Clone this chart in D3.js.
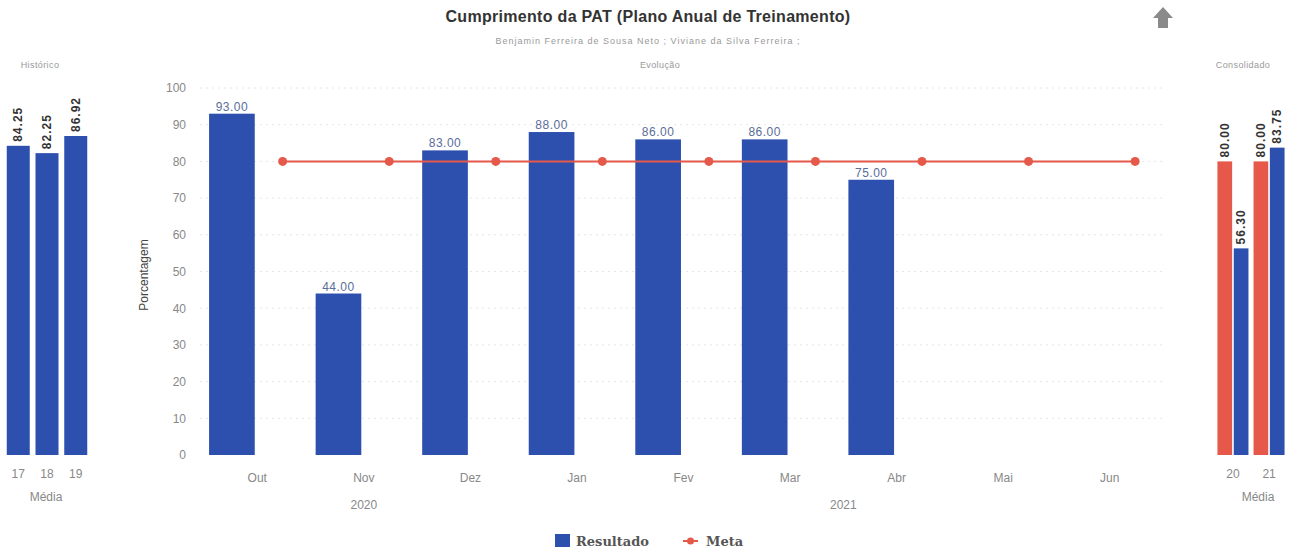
<!DOCTYPE html>
<html lang="pt">
<head>
  <meta charset="UTF-8">
  <title>Cumprimento da PAT</title>
  <style>
    body { margin: 0; background: #fff; font-family: "Liberation Sans", Arial, sans-serif; }
    svg { display: block; }
    .tick-lbl { font-size: 12px; fill: #888; }
    .small { font-size: 9px; fill: #999; letter-spacing: 0.4px; }
  </style>
</head>
<body>
  <svg width="1297" height="553"></svg>

  <script src="https://d3js.org/d3.v7.min.js"></script>
  <script>
    // main chart (Evolução)
    const months = ["Out", "Nov", "Dez", "Jan", "Fev", "Mar", "Abr", "Mai", "Jun"];
    const monthYears = ["2020", "2020", "2020", "2021", "2021", "2021", "2021", "2021", "2021"];
    const resultado = [93, 44, 83, 88, 86, 86, 75, null, null];
    const meta = [80, 80, 80, 80, 80, 80, 80, 80, 80];
    const yTicks = [0, 10, 20, 30, 40, 50, 60, 70, 80, 90, 100];

    // left panel (Histórico)
    const histYears = ["17", "18", "19"];
    const histValues = [84.25, 82.25, 86.92];

    // right panel (Consolidado)
    const consYears = ["20", "21"];
    const consMeta = [80, 80];
    const consResultado = [56.30, 83.75];

    const blue = "#2d50ae";
    const red = "#e5584a";

    const svg = d3.select("svg");

    const y = d3.scaleLinear().domain([0, 100]).range([455, 88]);

    // titles
    svg.append("text")
      .attr("x", 648).attr("y", 22)
      .attr("text-anchor", "middle")
      .style("font-size", "16px").style("font-weight", "bold").style("fill", "#333")
      .style("letter-spacing", "0.3px")
      .text("Cumprimento da PAT (Plano Anual de Treinamento)");

    svg.append("text")
      .attr("class", "small")
      .attr("x", 648).attr("y", 44)
      .attr("text-anchor", "middle")
      .style("letter-spacing", "1px")
      .text("Benjamin Ferreira de Sousa Neto ; Viviane da Silva Ferreira ;");

    // up arrow icon
    svg.append("path")
      .attr("d", "M1163,7 L1173,18 L1168,18 L1168,28 L1158,28 L1158,18 L1153,18 Z")
      .attr("fill", "#8a8a8a");

    svg.append("text").attr("class", "small").attr("x", 40).attr("y", 68)
      .attr("text-anchor", "middle").text("Histórico");
    svg.append("text").attr("class", "small").attr("x", 660).attr("y", 68)
      .attr("text-anchor", "middle").text("Evolução");
    svg.append("text").attr("class", "small").attr("x", 1243).attr("y", 68)
      .attr("text-anchor", "middle").text("Consolidado");

    // ---------- main chart ----------
    const x = d3.scaleBand().domain(months).range([204, 1163]);
    const xi = d3.scaleBand().domain(["Resultado", "Meta"]).range([0, x.bandwidth()]).padding(0.1);

    svg.append("g").selectAll("line")
      .data(yTicks.slice(1))
      .join("line")
      .attr("x1", 200).attr("x2", 1165)
      .attr("y1", d => y(d)).attr("y2", d => y(d))
      .attr("stroke", "#e6e6e6")
      .attr("stroke-dasharray", "2,4");

    const yAxis = svg.append("g")
      .attr("transform", "translate(190,0)")
      .call(d3.axisLeft(y).tickValues(yTicks).tickSize(0).tickPadding(4));
    yAxis.select(".domain").remove();
    yAxis.selectAll("text").attr("class", "tick-lbl").attr("font-family", null).attr("font-size", null);

    svg.append("text")
      .attr("transform", "translate(148,275) rotate(-90)")
      .attr("text-anchor", "middle")
      .style("font-size", "12px").style("fill", "#444")
      .text("Porcentagem");

    const mainData = months.map((m, i) => ({ m, year: monthYears[i], r: resultado[i], meta: meta[i] }));

    svg.append("g").selectAll("rect")
      .data(mainData.filter(d => d.r != null))
      .join("rect")
      .attr("x", d => x(d.m) + xi("Resultado"))
      .attr("width", xi.bandwidth())
      .attr("y", d => y(d.r))
      .attr("height", d => y(0) - y(d.r))
      .attr("fill", blue);

    svg.append("g").selectAll("text")
      .data(mainData.filter(d => d.r != null))
      .join("text")
      .attr("x", d => x(d.m) + xi("Resultado") + xi.bandwidth() / 2)
      .attr("y", d => y(d.r) - 3)
      .attr("text-anchor", "middle")
      .style("font-size", "12px").style("fill", "#5b6d99").style("letter-spacing", "0.5px")
      .text(d => d.r.toFixed(2));

    const line = d3.line()
      .x(d => x(d.m) + xi("Meta") + xi.bandwidth() / 2)
      .y(d => y(d.meta));

    svg.append("path")
      .datum(mainData)
      .attr("d", line)
      .attr("fill", "none")
      .attr("stroke", red)
      .attr("stroke-width", 2);

    svg.append("g").selectAll("circle")
      .data(mainData)
      .join("circle")
      .attr("cx", d => x(d.m) + xi("Meta") + xi.bandwidth() / 2)
      .attr("cy", d => y(d.meta))
      .attr("r", 4.5)
      .attr("fill", red);

    const xAxis = svg.append("g")
      .attr("transform", "translate(0,455)")
      .call(d3.axisBottom(x).tickSize(0).tickPadding(18));
    xAxis.select(".domain").remove();
    xAxis.selectAll("text").attr("class", "tick-lbl").attr("font-family", null).attr("font-size", null);

    const years = Array.from(new Set(monthYears));
    svg.append("g").selectAll("text")
      .data(years)
      .join("text")
      .attr("class", "tick-lbl")
      .attr("x", yr => {
        const ms = months.filter((m, i) => monthYears[i] === yr);
        return (x(ms[0]) + x(ms[ms.length - 1]) + x.bandwidth()) / 2;
      })
      .attr("y", 509)
      .attr("text-anchor", "middle")
      .text(yr => yr);

    // ---------- left panel ----------
    const xh = d3.scaleBand().domain(histYears).range([1, 93]).padding(0.2);
    const histData = histYears.map((k, i) => ({ k, v: histValues[i] }));

    svg.append("g").selectAll("rect")
      .data(histData)
      .join("rect")
      .attr("x", d => xh(d.k))
      .attr("width", xh.bandwidth())
      .attr("y", d => y(d.v))
      .attr("height", d => y(0) - y(d.v))
      .attr("fill", blue);

    svg.append("g").selectAll("text")
      .data(histData)
      .join("text")
      .attr("transform", d => `translate(${xh(d.k) + xh.bandwidth() / 2},${y(d.v) - 4}) rotate(-90)`)
      .attr("dy", "0.35em")
      .style("font-size", "12px").style("font-weight", "bold").style("fill", "#333")
      .style("letter-spacing", "1px")
      .text(d => d.v.toFixed(2));

    const hAxis = svg.append("g")
      .attr("transform", "translate(0,455)")
      .call(d3.axisBottom(xh).tickSize(0).tickPadding(14));
    hAxis.select(".domain").remove();
    hAxis.selectAll("text").attr("class", "tick-lbl").attr("font-family", null).attr("font-size", null);

    svg.append("text").attr("class", "tick-lbl")
      .attr("x", 46).attr("y", 501).attr("text-anchor", "middle").text("Média");

    // ---------- right panel ----------
    const xc = d3.scaleBand().domain(consYears).range([1214, 1288]).padding(0.05);
    const xci = d3.scaleBand().domain(["Meta", "Resultado"]).range([0, xc.bandwidth()]).padding(0.1);
    const consData = [];
    consYears.forEach((k, i) => {
      consData.push({ k, s: "Meta", v: consMeta[i], c: red });
      consData.push({ k, s: "Resultado", v: consResultado[i], c: blue });
    });

    svg.append("g").selectAll("rect")
      .data(consData)
      .join("rect")
      .attr("x", d => xc(d.k) + xci(d.s))
      .attr("width", xci.bandwidth())
      .attr("y", d => y(d.v))
      .attr("height", d => y(0) - y(d.v))
      .attr("fill", d => d.c);

    svg.append("g").selectAll("text")
      .data(consData)
      .join("text")
      .attr("transform", d => `translate(${xc(d.k) + xci(d.s) + xci.bandwidth() / 2},${y(d.v) - 4}) rotate(-90)`)
      .attr("dy", "0.35em")
      .style("font-size", "12px").style("font-weight", "bold").style("fill", "#333")
      .style("letter-spacing", "1px")
      .text(d => d.v.toFixed(2));

    const cAxis = svg.append("g")
      .attr("transform", "translate(0,455)")
      .call(d3.axisBottom(xc).tickSize(0).tickPadding(14));
    cAxis.select(".domain").remove();
    cAxis.selectAll("text").attr("class", "tick-lbl").attr("font-family", null).attr("font-size", null);

    svg.append("text").attr("class", "tick-lbl")
      .attr("x", 1258).attr("y", 501).attr("text-anchor", "middle").text("Média");

    // ---------- legend ----------
    const legend = svg.append("g").attr("transform", "translate(555,541)");
    legend.append("rect").attr("x", 0).attr("y", -7).attr("width", 15).attr("height", 13).attr("fill", blue);
    legend.append("text").attr("x", 21).attr("y", 0).attr("dy", "0.35em")
      .style("font-family", "'DejaVu Serif', serif").style("font-weight", "bold")
      .style("font-size", "13px").style("fill", "#555").text("Resultado");
    legend.append("line").attr("x1", 128).attr("x2", 143).attr("y1", 0).attr("y2", 0)
      .attr("stroke", red).attr("stroke-width", 2);
    legend.append("circle").attr("cx", 135.5).attr("cy", 0).attr("r", 3.5).attr("fill", red);
    legend.append("text").attr("x", 151).attr("y", 0).attr("dy", "0.35em")
      .style("font-family", "'DejaVu Serif', serif").style("font-weight", "bold")
      .style("font-size", "13px").style("fill", "#555").text("Meta");
  </script>
</body>
</html>
